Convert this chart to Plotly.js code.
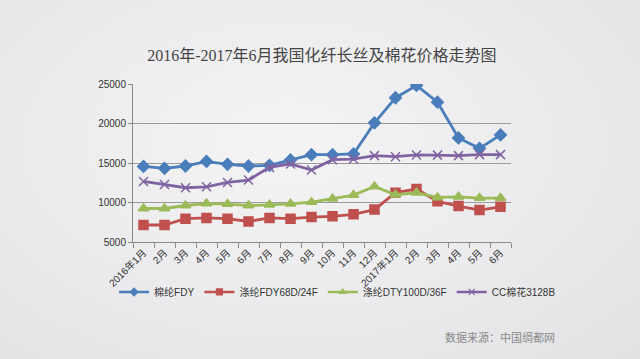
<!DOCTYPE html>
<html>
<head>
<meta charset="utf-8">
<script src="https://cdn.plot.ly/plotly-3.0.1.min.js"></script>
<style>
html,body{margin:0;padding:0;}
body{width:640px;height:359px;background:radial-gradient(ellipse at 45% 40%, #f4f4f5 0%, #ebebed 55%, #e2e2e5 100%);}
#chart{width:640px;height:359px;}
</style>
</head>
<body>
<div id="chart"></div>
<script>
const categories = ["2016年1月","2016年2月","2016年3月","2016年4月","2016年5月","2016年6月","2016年7月","2016年8月","2016年9月","2016年10月","2016年11月","2016年12月","2017年1月","2017年2月","2017年3月","2017年4月","2017年5月","2017年6月"];
const tickLabels = ["2016年1月","2月","3月","4月","5月","6月","7月","8月","9月","10月","11月","12月","2017年1月","2月","3月","4月","5月","6月"];
const seriesNames = ["棉纶FDY","涤纶FDY68D/24F","涤纶DTY100D/36F","CC棉花3128B"];
const nylonFDY = [14570,14320,14620,15200,14830,14620,14700,15380,16060,16060,16150,20080,23260,24820,22700,18180,16860,18560];
const polyFDY = [7150,7150,7950,8050,7950,7600,8050,7950,8150,8250,8500,9100,11250,11700,10150,9550,9050,9450];
const polyDTY = [9240,9240,9620,9870,9800,9620,9710,9830,10050,10470,10940,12030,10980,11230,10640,10720,10560,10560];
const cotton = [12670,12290,11870,11990,12540,12840,14450,14880,14110,15420,15500,15930,15800,16020,16000,15930,16060,16060];

const idx = categories.map((c,i)=>i);
const colors = ["#4a7ebb","#c0504d","#9bbb59","#8064a2"];
const symbols = ["diamond","square","triangle-up","x-thin-open"];
const values = [nylonFDY, polyFDY, polyDTY, cotton];
const traces = values.map((v,k)=>({
  x: idx, y: v, name: seriesNames[k], type:"scatter", mode:"lines+markers", showlegend:false,
  legendgroup:"g"+k,
  text: categories, hovertemplate:"%{text}: %{y}<extra>"+seriesNames[k]+"</extra>",
  line:{color:colors[k], width:2.8},
  marker:{symbol:symbols[k], size:9, color:colors[k], line:{color:colors[k], width:1.5}}
}));
const legendTraces = seriesNames.map((n,k)=>({
  x:[null], y:[null], name:n, type:"scatter", mode:"lines+markers", showlegend:true,
  legendgroup:"g"+k, hoverinfo:"skip",
  line:{color:colors[k], width:2.5},
  marker:{symbol:symbols[k], size:6, color:colors[k], line:{color:colors[k], width:1.2}}
}));

const layout = {
  width:640, height:359,
  paper_bgcolor:"rgba(0,0,0,0)", plot_bgcolor:"rgba(0,0,0,0)",
  margin:{l:133, r:129, t:84, b:117},
  font:{family:"Liberation Sans, Noto Sans CJK SC, sans-serif", color:"#333", size:10},
  title:{text:"2016年-2017年6月我国化纤长丝及棉花价格走势图", x:0.503, xanchor:"center", y:0.847, yanchor:"middle",
    font:{family:"Liberation Serif, Noto Sans CJK SC, serif", size:16, color:"#444"}},
  showlegend:true,
  legend:{orientation:"h", x:-0.05, xanchor:"left", y:-0.316, yanchor:"middle",
    font:{size:10, color:"#333"}, bgcolor:"rgba(0,0,0,0)", itemwidth:30, tracegroupgap:0},
  xaxis:{
    range:[-0.5, 17.5], tickmode:"array", tickvals:idx, ticktext:tickLabels,
    tickangle:-45, ticks:"", showgrid:false, zeroline:false,
    showline:true, linecolor:"#8a8a8a", linewidth:1,
    tickfont:{size:10, color:"#333"},
    minor:{tick0:-0.5, dtick:1, ticks:"outside", ticklen:5, tickcolor:"#8a8a8a", showgrid:false}
  },
  yaxis:{
    range:[5000, 25000], dtick:5000, tick0:5000, tickformat:"d", showgrid:true, gridcolor:"#9a9a9a", gridwidth:1,
    zeroline:false, showline:true, linecolor:"#8a8a8a", linewidth:1,
    ticks:"outside", ticklen:4, tickcolor:"#8a8a8a", tickfont:{size:10, color:"#333"}
  },
  annotations:[{
    text:"数据来源：中国绸都网", xref:"paper", yref:"paper", x:1.122, y:-0.60, xanchor:"right", yanchor:"middle",
    showarrow:false, font:{size:11, color:"#8a8a8a", family:"Noto Sans CJK SC, sans-serif"}
  }]
};
Plotly.newPlot("chart", traces.concat(legendTraces), layout, {displayModeBar:false, responsive:false});
</script>
</body>
</html>
